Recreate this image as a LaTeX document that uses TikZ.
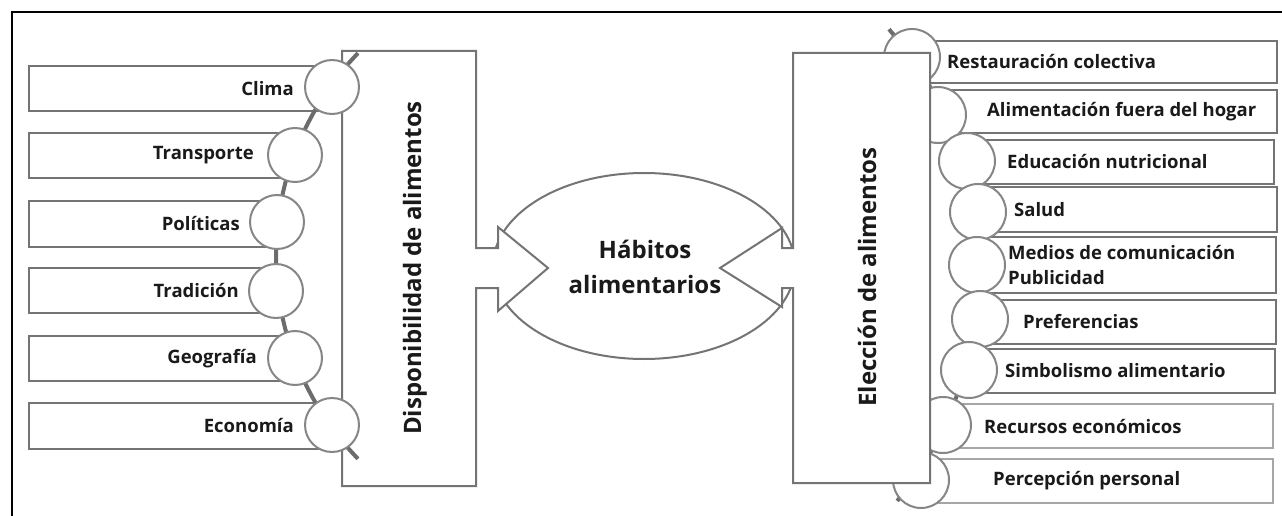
\documentclass[tikz,border=0pt]{standalone}
\usepackage{fontspec}
\setmainfont{Open Sans}
\definecolor{boxgray}{HTML}{747474}
\definecolor{circgray}{HTML}{868686}
\definecolor{arcgray}{HTML}{6C6C6C}
\definecolor{lightbox}{HTML}{A6A6A6}
\definecolor{txt}{HTML}{1A1A1A}
\begin{document}
\begin{tikzpicture}[x=1pt,y=-1pt,
  itembox/.style={draw=boxgray,line width=2pt,fill=white},
  lightitembox/.style={draw=lightbox,line width=1.5pt,fill=white},
  bigshape/.style={draw=boxgray,line width=2pt,fill=white},
  circ/.style={circle,draw=circgray,fill=white,line width=2pt,minimum size=54pt,inner sep=0pt},
  rcirc/.style={circ,minimum size=56pt},
  arcline/.style={draw=arcgray,line width=4pt},
  itemtxt/.style={text=txt,font=\fontsize{18.5}{25}\selectfont\bfseries,inner sep=0pt},
  titletxt/.style={text=txt,font=\fontsize{24}{35}\selectfont\bfseries,inner sep=0pt}]
\useasboundingbox (0,0) rectangle (1282,516);
\fill[white] (0,0) rectangle (1282,516);
\draw[line width=2.5pt] (12,516) -- (12,12) -- (1282,12);

% ---------- centre ellipse ----------
\draw[bigshape] (644,266) ellipse [x radius=151, y radius=93];

% ---------- left big box with arrow ----------
\draw[bigshape] (342,51) -- (476,51) -- (476,248) -- (498,248) -- (498,227) -- (548,268)
  -- (498,311) -- (498,288) -- (476,288) -- (476,486) -- (342,486) -- cycle;

% ---------- left item boxes ----------
\draw[itembox] (29,66) rectangle (332,111);
\draw[itembox] (29,133) rectangle (295,178);
\draw[itembox] (29,201) rectangle (277,247);
\draw[itembox] (29,268) rectangle (276,313);
\draw[itembox] (29,336) rectangle (295,381);
\draw[itembox] (29,403) rectangle (332,449);

\draw[arcline] plot[domain=136:224,samples=60] ({568+292*cos(\x)},{256-292*sin(\x)});

\node[circ] (lc1) at (332,87) {};
\node[circ] (lc2) at (295,155) {};
\node[circ] (lc3) at (277,222) {};
\node[circ] (lc4) at (276,291) {};
\node[circ] (lc5) at (295,358) {};
\node[circ] (lc6) at (332,425) {};

\node[itemtxt,anchor=east] (lt1) at (294,88.5) {Clima};
\node[itemtxt,anchor=east] (lt2) at (254,155.5) {Transporte};
\node[itemtxt,anchor=east] (lt3) at (240,224) {Políticas};
\node[itemtxt,anchor=east] (lt4) at (239,290.5) {Tradición};
\node[itemtxt,anchor=east] (lt5) at (257,358.5) {Geografía};
\node[itemtxt,anchor=east] (lt6) at (294,426) {Economía};

\node[titletxt,rotate=90] (disp) at (415,268) {Disponibilidad de alimentos};

% ---------- right item boxes ----------
\draw[itembox] (912,41) rectangle (1277,83);
\draw[itembox] (938,90) rectangle (1277,133);
\draw[itembox] (967,140) rectangle (1274,184);
\draw[itembox] (978,187) rectangle (1277,232);
\draw[itembox] (977,237) rectangle (1276,293);
\draw[itembox] (980,300) rectangle (1276,344);
\draw[itembox] (969,349) rectangle (1275,393);
\draw[lightitembox] (943,404) rectangle (1273,448);
\draw[lightitembox] (921,459) rectangle (1273,503);

\draw[arcline] plot[domain=-39:41,samples=60] ({612+367*cos(\x)},{270-367*sin(\x)});

\node[rcirc] (rc1) at (912,57) {};
\node[rcirc] (rc2) at (938,115) {};
\node[rcirc] (rc3) at (967,161) {};
\node[rcirc] (rc4) at (978,212) {};
\node[rcirc] (rc5) at (977,265) {};
\node[rcirc] (rc6) at (980,319) {};
\node[rcirc] (rc7) at (969,370) {};
\node[rcirc] (rc8) at (943,425) {};
\node[rcirc] (rc9) at (921,480) {};

% ---------- right big box with arrow ----------
\draw[bigshape] (793,53) -- (930,53) -- (930,483) -- (793,483) -- (793,288) -- (782,288)
  -- (782,307) -- (720,268) -- (782,228) -- (782,248) -- (793,248) -- cycle;

\node[itemtxt,anchor=west] (rt1) at (947,62) {Restauración colectiva};
\node[itemtxt,anchor=west] (rt2) at (987,112) {Alimentación fuera del hogar};
\node[itemtxt,anchor=west] (rt3) at (1007,162) {Educación nutricional};
\node[itemtxt,anchor=west] (rt4) at (1014,210) {Salud};
\node[itemtxt,anchor=west,align=left] (rt5) at (1008,265.5) {Medios de comunicación\\Publicidad};
\node[itemtxt,anchor=west] (rt6) at (1023,322) {Preferencias};
\node[itemtxt,anchor=west] (rt7) at (1005,371) {Simbolismo alimentario};
\node[itemtxt,anchor=west] (rt8) at (984,427) {Recursos económicos};
\node[itemtxt,anchor=west] (rt9) at (993,481) {Percepción personal};

\node[titletxt,rotate=90] (elec) at (867,277) {Elección de alimentos};
\node[titletxt,align=center] (hab) at (645,267) {Hábitos\\alimentarios};
\end{tikzpicture}
\end{document}
